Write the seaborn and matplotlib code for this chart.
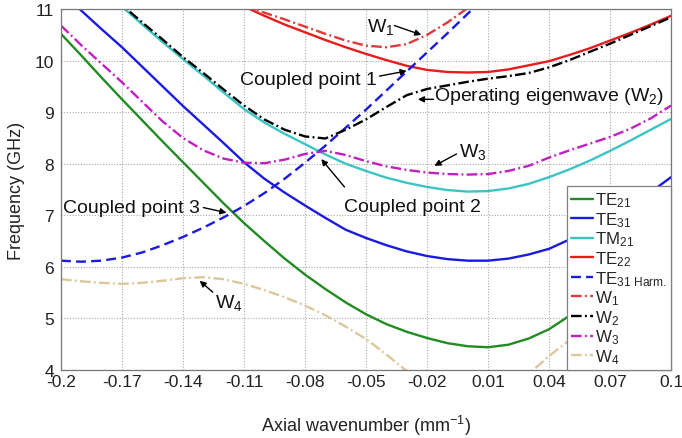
import matplotlib
matplotlib.use("Agg")
import matplotlib.pyplot as plt
import seaborn as sns

# axial wavenumber grid (mm^-1), every 0.01
kz = [-0.20, -0.19, -0.18, -0.17, -0.16, -0.15, -0.14, -0.13, -0.12, -0.11,
      -0.10, -0.09, -0.08, -0.07, -0.06, -0.05, -0.04, -0.03, -0.02, -0.01,
      0.00, 0.01, 0.02, 0.03, 0.04, 0.05, 0.06, 0.07, 0.08, 0.09, 0.10]

te21 = [10.52, 10.10, 9.67, 9.25, 8.84, 8.43, 8.03, 7.63, 7.23, 6.85,
        6.50, 6.16, 5.85, 5.57, 5.31, 5.08, 4.89, 4.74, 4.62, 4.52,
        4.46, 4.44, 4.49, 4.61, 4.79, 5.05, 5.33, 5.63, 5.95, 6.28, 6.62]
te31 = [11.35, 10.97, 10.61, 10.26, 9.88, 9.50, 9.12, 8.76, 8.40, 8.03,
        7.71, 7.44, 7.19, 6.95, 6.72, 6.56, 6.42, 6.30, 6.21, 6.15,
        6.12, 6.12, 6.16, 6.24, 6.35, 6.53, 6.73, 6.96, 7.20, 7.45, 7.74]
tm21 = [12.10, 11.75, 11.40, 11.05, 10.70, 10.36, 10.03, 9.71, 9.38, 9.06,
        8.80, 8.58, 8.38, 8.18, 8.00, 7.86, 7.73, 7.63, 7.55, 7.49,
        7.46, 7.47, 7.52, 7.61, 7.74, 7.89, 8.06, 8.25, 8.45, 8.66, 8.87]
kz_te22 = kz[9:]
te22 = [11.05, 10.87, 10.70, 10.55, 10.40, 10.26, 10.13, 10.01, 9.90, 9.82,
        9.78, 9.77, 9.78, 9.83, 9.91, 9.99, 10.11, 10.24, 10.39, 10.54, 10.70, 10.87]
kz_harm = kz[:22]
te31_harm = [6.12, 6.10, 6.12, 6.18, 6.28, 6.42, 6.58, 6.76, 6.96, 7.18,
             7.43, 7.71, 8.02, 8.35, 8.70, 9.05, 9.42, 9.79, 10.16, 10.53, 10.91, 11.29]
kz_w1 = kz[9:22]
w1 = [11.08, 10.93, 10.80, 10.66, 10.52, 10.39, 10.29, 10.26, 10.32, 10.50, 10.74, 11.02, 11.32]
w2 = [12.15, 11.80, 11.44, 11.08, 10.74, 10.41, 10.07, 9.76, 9.44, 9.13,
      8.86, 8.66, 8.53, 8.49, 8.66, 8.86, 9.10, 9.33, 9.45, 9.52,
      9.59, 9.65, 9.70, 9.76, 9.87, 10.01, 10.17, 10.33, 10.50, 10.67, 10.84]
w3 = [10.68, 10.30, 9.94, 9.58, 9.20, 8.82, 8.50, 8.26, 8.10, 8.02,
      8.01, 8.08, 8.19, 8.25, 8.17, 8.05, 7.95, 7.88, 7.83, 7.80,
      7.79, 7.80, 7.86, 7.96, 8.12, 8.26, 8.39, 8.52, 8.68, 8.88, 9.13]
w4 = [5.76, 5.72, 5.69, 5.67, 5.69, 5.73, 5.78, 5.80, 5.76, 5.67,
      5.55, 5.41, 5.25, 5.06, 4.84, 4.60, 4.30, 3.98, 3.70, 3.50,
      3.40, 3.45, 3.62, 3.92, 4.27, 4.58, 4.88, 5.15, 5.40, 5.62, 5.80]

x_ticks = [-0.2, -0.17, -0.14, -0.11, -0.08, -0.05, -0.02, 0.01, 0.04, 0.07, 0.1]
x_ticklabels = ["-0.2", "-0.17", "-0.14", "-0.11", "-0.08", "-0.05",
                "-0.02", "0.01", "0.04", "0.07", "0.1"]
y_ticks = [4, 5, 6, 7, 8, 9, 10, 11]

sns.set_theme(style="whitegrid")
plt.rcParams["font.family"] = ["Liberation Sans", "DejaVu Sans"]
plt.rcParams["mathtext.default"] = "regular"

dashdot = (0, (4.5, 1.4, 0.8, 1.4))
dashed = (0, (4.2, 2.2))

curves = [
    (kz, te21, "TE$_{21}$", "#228b22", "-"),
    (kz, te31, "TE$_{31}$", "#1a1ae0", "-"),
    (kz, tm21, "TM$_{21}$", "#3cc4c4", "-"),
    (kz_te22, te22, "TE$_{22}$", "#e81c1c", "-"),
    (kz_harm, te31_harm, "TE$_{31\\ Harm.}$", "#1a1ae0", dashed),
    (kz_w1, w1, "W$_1$", "#e03a3a", dashdot),
    (kz, w2, "W$_2$", "black", dashdot),
    (kz, w3, "W$_3$", "#c21fc2", dashdot),
    (kz, w4, "W$_4$", "#dcc79a", dashdot),
]

fig, ax = plt.subplots(figsize=(6.82, 4.39), dpi=100)
fig.subplots_adjust(left=0.0894, right=0.984, top=0.977, bottom=0.155)

for xs, ys, lab, col, ls in curves:
    sns.lineplot(x=xs, y=ys, ax=ax, color=col, linestyle=ls, linewidth=1.7,
                 label=lab, sort=False)

ax.set_xlim(-0.2, 0.1)
ax.set_ylim(4, 11)
ax.set_xticks(x_ticks)
ax.set_xticklabels(x_ticklabels)
ax.set_yticks(y_ticks)
ax.tick_params(axis="both", labelsize=12.5, direction="in", length=4,
               color="#555555", labelcolor="#222222")
ax.tick_params(axis="x", pad=3)
ax.tick_params(axis="y", pad=5)
ax.grid(True, linestyle=(0, (1, 1.5)), color="#aaaaaa", linewidth=0.8)
for sp in ax.spines.values():
    sp.set_color("#777777")
    sp.set_linewidth(0.9)

ax.set_xlabel("Axial wavenumber (mm$^{-1}$)", fontsize=13, color="#222222", labelpad=17)
ax.set_ylabel("Frequency (GHz)", fontsize=13, color="#222222", labelpad=7)

arrow = dict(arrowstyle="-|>", color="black", lw=1.0, mutation_scale=9, shrinkA=0, shrinkB=0)
fs = 14
notes = [
    ("W$_1$", (-0.0497, 10.58), (-0.036, 10.68), (-0.0228, 10.50), "left"),
    ("Coupled point 1", (-0.0448, 9.55), (-0.0434, 9.70), (-0.0300, 9.80), "right"),
    ("Operating eigenwave (W$_2$)", (-0.0165, 9.23), (-0.0168, 9.25), (-0.0245, 9.25), "left"),
    ("W$_3$", (-0.0045, 8.15), (-0.0055, 8.19), (-0.0164, 7.96), "left"),
    ("Coupled point 2", (-0.0606, 7.08), (-0.0606, 7.55), (-0.0720, 8.09), "left"),
    ("Coupled point 3", (-0.1318, 7.06), (-0.1300, 7.15), (-0.1186, 7.05), "right"),
    ("W$_4$", (-0.1244, 5.22), (-0.1254, 5.51), (-0.1318, 5.73), "left"),
]
for txt, tpos, tail, head, ha in notes:
    ax.text(tpos[0], tpos[1], txt, fontsize=fs, ha=ha, va="baseline", color="#111111")
    ax.annotate("", xy=head, xytext=tail, arrowprops=arrow)

leg = ax.legend(loc="lower right", fontsize=12.2, borderaxespad=0, fancybox=False,
                framealpha=1, edgecolor="#808080", handlelength=1.3,
                handletextpad=0.1, labelspacing=0.05, borderpad=0.25)
leg.get_frame().set_linewidth(0.9)

fig.savefig("out.png", dpi=100)
